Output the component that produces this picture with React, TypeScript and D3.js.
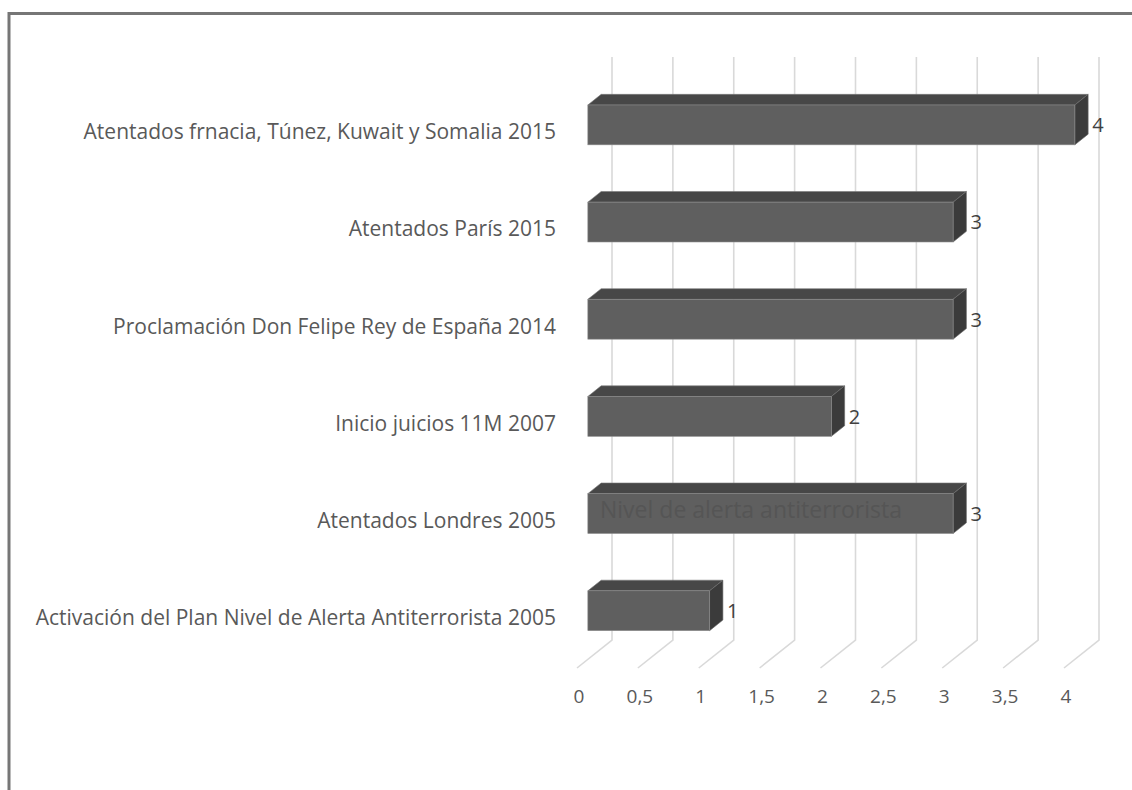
import React from 'react';
import * as d3 from 'd3';

// top to bottom, as shown
const categories = [
  'Atentados frnacia, Túnez, Kuwait y Somalia 2015',
  'Atentados París 2015',
  'Proclamación Don Felipe Rey de España 2014',
  'Inicio juicios 11M 2007',
  'Atentados Londres 2005',
  'Activación del Plan Nivel de Alerta Antiterrorista 2005',
];
const values = [4, 3, 3, 2, 3, 1];
const ticks = [0, 0.5, 1, 1.5, 2, 2.5, 3, 3.5, 4];
const tickLabels = ['0', '0,5', '1', '1,5', '2', '2,5', '3', '3,5', '4'];
const seriesName = 'Nivel de alerta antiterrorista';

const W = 1132;
const H = 790;
const FONT = '"Open Sans", "DejaVu Sans", sans-serif';

// oblique depth of the 3d box
const DX = 35;
const DY = -28;
const zFront = 0.31;
const zBack = 0.69;

const App = () => {
  const top = 85;
  const floor = 668;

  const x = d3.scaleLinear().domain([0, 4]).range([577, 1064]);
  const y = d3.scaleBand()
    .domain(categories)
    .range([top, floor])
    .paddingInner(0.59)
    .paddingOuter(0.295);

  const ox = DX * zFront;
  const oy = DY * zFront;
  const ddx = DX * (zBack - zFront);
  const ddy = DY * (zBack - zFront);

  return (
    <div style={{ position: 'fixed', left: 0, top: 0, width: W, height: H, background: '#fff' }}>
      <svg width={W} height={H} viewBox={`0 0 ${W} ${H}`} style={{ display: 'block' }}>
        <rect x={0} y={0} width={W} height={H} fill="#ffffff" />
        <rect x={9} y={13.5} width={W + 20} height={H + 20} fill="none" stroke="#767676" strokeWidth={3} />

        {/* walls / grid */}
        <g stroke="#d9d9d9" strokeWidth={1.6} fill="none">
          {ticks.map((t, i) => (
            <path
              key={i}
              d={`M${x(t) + DX},${top + DY} L${x(t) + DX},${floor + DY} L${x(t)},${floor}`}
            />
          ))}
        </g>

        {/* bars */}
        {categories.map((c, i) => {
          const v = values[i];
          const x0 = x(0) + ox;
          const x1 = x(v) + ox;
          const yt = y(c) + oy;
          const yb = yt + y.bandwidth();
          return (
            <g key={c}>
              <polygon
                points={`${x0},${yt} ${x0 + ddx},${yt + ddy} ${x1 + ddx},${yt + ddy} ${x1},${yt}`}
                fill="#474747"
                stroke="#7a7a7a"
                strokeWidth={0.6}
              />
              <polygon
                points={`${x1},${yt} ${x1 + ddx},${yt + ddy} ${x1 + ddx},${yb + ddy} ${x1},${yb}`}
                fill="#3b3b3b"
                stroke="#6a6a6a"
                strokeWidth={0.6}
              />
              <rect
                x={x0}
                y={yt}
                width={x1 - x0}
                height={yb - yt}
                fill="#5f5f5f"
                stroke="#8c8c8c"
                strokeWidth={0.6}
              />
              <text
                x={x1 + ddx + 4}
                y={(yt + yb) / 2 + 2}
                dominantBaseline="middle"
                fontFamily={FONT}
                fontSize={20}
                fill="#404040"
              >
                {v}
              </text>
            </g>
          );
        })}

        {/* series title sitting behind the bars */}
        <text
          x={600}
          y={512}
          dominantBaseline="middle"
          fontFamily={FONT}
          fontSize={23}
          fill="#555555"
        >
          {seriesName}
        </text>

        {/* category labels */}
        {categories.map((c) => (
          <text
            key={c}
            x={556}
            y={y(c) + y.bandwidth() / 2}
            textAnchor="end"
            dominantBaseline="middle"
            fontFamily={FONT}
            fontSize={21}
            fill="#595959"
          >
            {c}
          </text>
        ))}

        {/* value axis labels */}
        {ticks.map((t, i) => (
          <text
            key={i}
            x={x(t) + 2}
            y={698}
            textAnchor="middle"
            dominantBaseline="middle"
            fontFamily={FONT}
            fontSize={19}
            fill="#595959"
          >
            {tickLabels[i]}
          </text>
        ))}
      </svg>
    </div>
  );
};

export default App;
